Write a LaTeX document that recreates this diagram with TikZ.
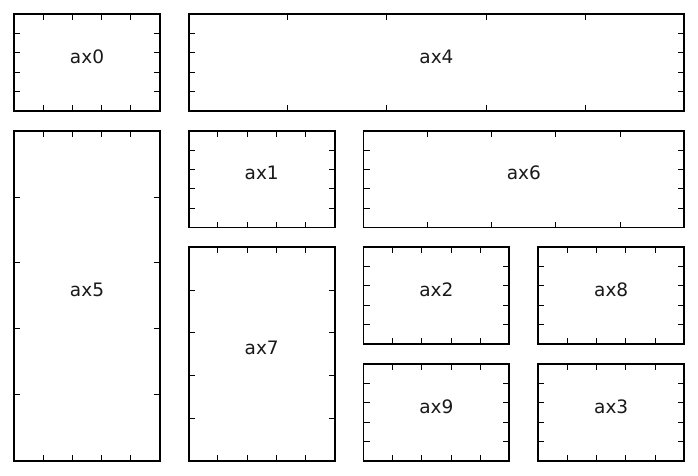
\documentclass[tikz,border=0pt]{standalone}
\usepackage{fontspec}
\setmainfont{DejaVu Sans}
\begin{document}
\begin{tikzpicture}[x=1pt,y=-1pt,
  frame/.style={draw=black,line width=1.7pt},
  tickmark/.style={draw=black,line width=0.9pt},
  lbl/.style={inner sep=0pt,font=\fontsize{18.5}{20}\selectfont,text=black!90}]
\useasboundingbox (0,0) rectangle (698,475);
\newcommand\axpanel[6]{%
  \foreach \f in {0.2,0.4,0.6,0.8}{%
    \draw[tickmark] ({#2+\f*(#4-#2)},#3) -- ++(0,6);
    \draw[tickmark] ({#2+\f*(#4-#2)},#5) -- ++(0,-6);
    \draw[tickmark] (#2,{#3+\f*(#5-#3)}) -- ++(6,0);
    \draw[tickmark] (#4,{#3+\f*(#5-#3)}) -- ++(-6,0);
  }%
  \draw[frame] (#2,#3) rectangle (#4,#5);
  \node[lbl] (#1) at ({(#2+#4)/2},{(#3+#5)/2-6}) {#6};
}
% columns: 14-160, 188.7-334.7, 363.5-509.3, 538.2-684.2
% rows: 14-110.8, 131-227.5, 247.3-343.8, 364-460.8
\axpanel{ax0}{14}{14}{160}{110.8}{ax0}
\axpanel{ax4}{188.7}{14}{684.2}{110.8}{ax4}
\axpanel{ax5}{14}{131}{160}{460.8}{ax5}
\axpanel{ax1}{188.7}{131}{334.7}{227.5}{ax1}
\axpanel{ax6}{363.5}{131}{684.2}{227.5}{ax6}
\axpanel{ax7}{188.7}{247.3}{334.7}{460.8}{ax7}
\axpanel{ax2}{363.5}{247.3}{509.3}{343.8}{ax2}
\axpanel{ax8}{538.2}{247.3}{684.2}{343.8}{ax8}
\axpanel{ax9}{363.5}{364}{509.3}{460.8}{ax9}
\axpanel{ax3}{538.2}{364}{684.2}{460.8}{ax3}
\end{tikzpicture}
\end{document}
